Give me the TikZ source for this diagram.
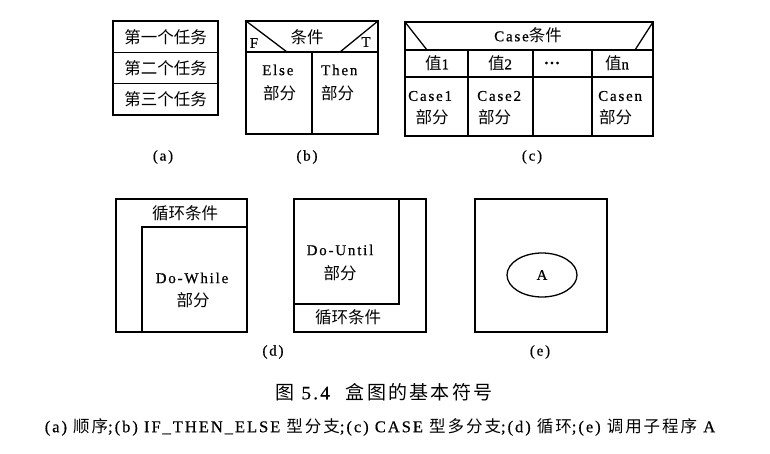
\documentclass[tikz,border=0pt]{standalone}
\usepackage{fontspec}
\setmainfont{Liberation Serif}
\newfontfamily\cjk[Scale=1.1]{Noto Sans CJK SC}
\newfontfamily\cjkc[LetterSpace=12]{Noto Sans CJK SC}
\newfontfamily\lat[LetterSpace=12,FakeBold=0.6]{Liberation Serif}
\newfontfamily\latc[LetterSpace=12,FakeBold=0.5]{Liberation Serif}
\usetikzlibrary{shapes.geometric, positioning}
\newcommand{\zh}[1]{{\cjk #1}}
\newcommand{\zc}[1]{{\cjkc #1}}

\begin{document}
\begin{tikzpicture}[x=1pt,y=-1pt]
\tikzset{
  bx/.style={draw=black,line width=1.3pt},
  cell/.style={draw=black,line width=1.3pt,outer sep=0pt,inner sep=0pt,minimum width=105pt,minimum height=31.3pt,font=\fontsize{15}{18}\selectfont\cjk},
  tx/.style={inner sep=0pt,font=\fontsize{15}{18}\selectfont\lat},
  captxt/.style={inner sep=0pt,font=\fontsize{16.5}{18}\selectfont\latc}
}
\useasboundingbox (0,0) rectangle (770,454);
% (a) sequence
\node[cell] (s1) at (165.5,36.8) {第一个任务};
\node[cell,below=0pt of s1] (s2) {第二个任务};
\node[cell,below=0pt of s2] (s3) {第三个任务};
\node[tx] (la) at (163,157) {(a)};
% (b) if-then-else
\draw[bx] (246,21) rectangle (378,134);
\draw[bx] (246,52) -- (378,52) (312,52) -- (312,134);
\draw[bx] (246,21) -- (287,52) (378,21) -- (340,52);
\node[tx] (cnd) at (307,37) {\zh{条件}};
\node[tx] (bf) at (254,43) {F};
\node[tx] (bt) at (366,42) {T};
\node[tx,anchor=west] (els) at (262,70) {Else};
\node[tx,anchor=west] (elsp) at (263,93) {\zh{部分}};
\node[tx,anchor=west] (thn) at (321,70) {Then};
\node[tx,anchor=west] (thnp) at (321,93) {\zh{部分}};
\node[tx] (lb) at (307,157) {(b)};
% (c) case
\draw[bx] (405,22) rectangle (653,136);
\draw[bx] (405,50) -- (653,50) (405,77) -- (653,77);
\foreach \x in {468,533,592} \draw[bx] (\x,50) -- (\x,136);
\draw[bx] (405,22) -- (427,50) (653,22) -- (635,50);
\node[tx] (csc) at (528,35) {Case\zh{条件}};
\foreach \x/\t [count=\i] in {437/\zh{值}1,500/\zh{值}2,552/{\bfseries...},617/\zh{值}n}
  \node[tx] (v\i) at (\x,63) {\t};
\node[tx,anchor=west] (c1) at (408,96) {Case1};
\node[tx] (c1p) at (432,117) {\zh{部分}};
\node[tx,anchor=west] (c2) at (477,96) {Case2};
\node[tx,anchor=west] (c2p) at (478,117) {\zh{部分}};
\node[tx,anchor=west] (cn) at (598,96) {Casen};
\node[tx,anchor=west] (cnp) at (599,117) {\zh{部分}};
\node[tx] (lc) at (532,157) {(c)};
% (d) loops
\draw[bx] (116,199) rectangle (247,332);
\draw[bx] (142,332) -- (142,227) -- (247,227);
\node[tx] (wc) at (185,213) {\zh{循环条件}};
\node[tx] (dw) at (192,278) {Do-While};
\node[tx] (dwp) at (193,300) {\zh{部分}};
\draw[bx] (294,199) rectangle (426,332);
\draw[bx] (399,199) -- (399,304) -- (294,304);
\node[tx] (du) at (340,250) {Do-Until};
\node[tx] (dup) at (340,273) {\zh{部分}};
\node[tx] (uc) at (348,317) {\zh{循环条件}};
\node[tx] (ld) at (273,352) {(d)};
% (e) call
\draw[bx] (475,199) rectangle (607,332);
\node[ellipse,bx,minimum width=70pt,minimum height=44pt,inner sep=0pt,font=\fontsize{15}{18}\selectfont\lat] (sub) at (542,275) {A};
\node[tx] (le) at (540,352) {(e)};
% caption
\node[captxt,font=\fontsize{19}{21}\selectfont\latc] (ttl) at (384,392) {\zc{图} 5.4\hspace{16pt}\zc{盒图的基本符号}};
\node[captxt] (cpt) at (380,427) {(a) \zc{顺序};(b) IF\_THEN\_ELSE \zc{型分支};(c) CASE \zc{型多分支};(d) \zc{循环};(e) \zc{调用子程序} A};
\end{tikzpicture}
\end{document}
